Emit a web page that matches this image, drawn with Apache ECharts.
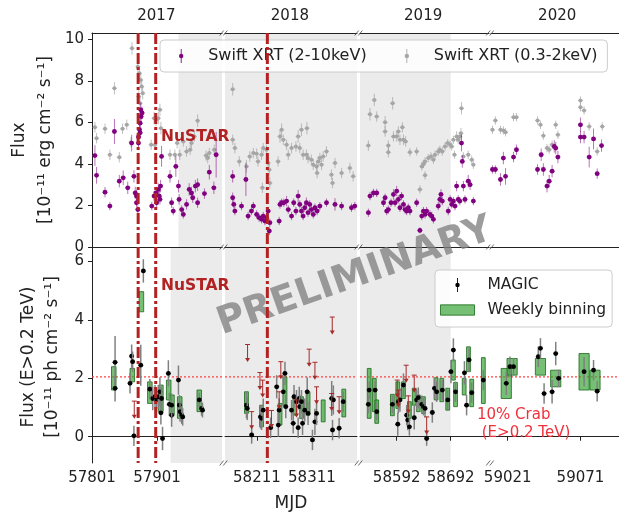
<!DOCTYPE html>
<html>
<head>
<meta charset="utf-8">
<script src="https://cdn.jsdelivr.net/npm/echarts@6/dist/echarts.min.js"></script>
<style>
html, body { margin: 0; padding: 0; background: #fff; }
#main { width: 619px; height: 513px; }
</style>
</head>
<body>
<div id="main"></div>
<script>
// broken MJD axis: one grid per segment
const segRanges = [[57801, 58001], [58153, 58393], [58524, 58763], [59009.5, 59097.5]];
const segTicks = [[57801, 57901], [58211, 58311], [58592, 58692], [59021, 59071]];
const yearLabels = ['2017', '2018', '2019', '2020'];
const yearPos = [57900, 58271, 58641, 59055];
const xrtTicks = [0, 2, 4, 6, 8, 10];
const magicTicks = [0, 2, 4, 6];
const nustarDays = [57872, 57899, 58230];
const crabLevel = 2.05;
const xrtShade = [57934, 58692];
const magicShade = [57922, 58692];

// Swift XRT 2-10 keV [MJD, flux, err]
const xrtHard = [
  [57805.5, 4.4, 0.5], [57808, 3.45, 0.4], [57821, 2.64, 0.25], [57828.5, 1.97, 0.2], [57835.5, 5.56, 0.6],
  [57843, 3.17, 0.3], [57849, 3.33, 0.35], [57856, 2.85, 0.3], [57862, 5.0, 0.4], [57865.5, 3.4, 0.3],
  [57867.5, 2.6, 0.3], [57869.5, 2.45, 0.3], [57869.5, 2.13, 0.2], [57871.5, 1.8, 0.2], [57872.5, 5.3, 0.3],
  [57872.5, 5.0, 0.3], [57874, 5.65, 0.3], [57875, 5.96, 0.3], [57875, 5.5, 0.3], [57876.5, 6.28, 0.3],
  [57876, 6.6, 0.35], [57878, 6.45, 0.3], [57893, 1.97, 0.2], [57896.5, 2.45, 0.25], [57899.5, 2.6, 0.3],
  [57900.5, 2.13, 0.25], [57903, 2.77, 0.3], [57904.5, 2.45, 0.25], [57905.5, 2.29, 0.25], [57906.5, 2.93, 0.3],
  [57908, 4.36, 0.5], [57921, 3.4, 0.3], [57923.5, 2.13, 0.25], [57926, 1.73, 0.2], [57930, 3.88, 0.5],
  [57934, 2.93, 0.3], [57935, 2.29, 0.25], [57939, 1.8, 0.2], [57941.5, 1.57, 0.2], [57946.5, 2.05, 0.25],
  [57950.5, 2.77, 0.3], [57954, 2.6, 0.3], [57956, 2.37, 0.25], [57960, 2.93, 0.3], [57963.5, 3.0, 0.3],
  [57963.5, 2.13, 0.25], [57974, 2.57, 0.25], [57981.5, 3.6, 0.35], [57988.5, 2.85, 0.3], [57992, 4.44, 1.1],
  [58167, 3.4, 0.3], [58191, 3.25, 0.8], [58167, 2.37, 0.25], [58169, 2.05, 0.2], [58171, 1.73, 0.2],
  [58183, 1.97, 0.2], [58195, 1.49, 0.2], [58201, 1.73, 0.2], [58204.5, 1.97, 0.2], [58210.5, 1.57, 0.2],
  [58215, 1.41, 0.2], [58219.5, 1.33, 0.2], [58222.5, 1.49, 0.2], [58225.5, 1.25, 0.2], [58228.5, 1.41, 0.2],
  [58231.5, 1.73, 0.2], [58233.5, 0.77, 0.2], [58234.5, 1.17, 0.2], [58251.5, 1.25, 0.2], [58253, 2.05, 0.2],
  [58256, 2.13, 0.2], [58260, 2.13, 0.2], [58265, 2.21, 0.25], [58268, 1.8, 0.2], [58274, 1.49, 0.2],
  [58278, 2.13, 0.2], [58282, 1.73, 0.2], [58286, 2.45, 0.3], [58289, 2.05, 0.2], [58292, 1.73, 0.2],
  [58295, 1.49, 0.2], [58298, 1.89, 0.2], [58301, 2.13, 0.25], [58304, 1.65, 0.2], [58307, 2.05, 0.2],
  [58310, 1.8, 0.2], [58313.5, 1.57, 0.2], [58316.5, 1.89, 0.2], [58320.5, 1.73, 0.2], [58325.5, 1.97, 0.2],
  [58337.5, 2.13, 0.2], [58353, 2.05, 0.3], [58365, 1.97, 0.2], [58383, 1.89, 0.2], [58389, 1.97, 0.2],
  [58539.5, 1.65, 0.2], [58542.5, 2.45, 0.2], [58549, 2.6, 0.2], [58555, 2.6, 0.2], [58567.5, 2.13, 0.2],
  [58570.5, 2.37, 0.2], [58573.5, 1.73, 0.2], [58576.5, 1.8, 0.2], [58581.5, 2.13, 0.2], [58586, 2.53, 0.25],
  [58589, 2.13, 0.2], [58592, 2.69, 0.25], [58595, 2.29, 0.2], [58598, 1.89, 0.2], [58601, 2.45, 0.2],
  [58604.5, 2.05, 0.2], [58607.5, 1.8, 0.2], [58610.5, 1.73, 0.2], [58613.5, 1.89, 0.2], [58616.5, 1.73, 0.2],
  [58629, 2.13, 0.2], [58635, 0.8, 0.15], [58638.5, 1.49, 0.2], [58641.5, 1.73, 0.2], [58644.5, 1.57, 0.2],
  [58647.5, 1.73, 0.2], [58653.5, 1.57, 0.2], [58657, 1.49, 0.2], [58660, 1.33, 0.2], [58669, 1.97, 0.2],
  [58672, 2.29, 0.25], [58674, 2.53, 0.25], [58676.5, 2.21, 0.2], [58687.5, 1.73, 0.2], [58691, 2.29, 0.2],
  [58694, 2.05, 0.2], [58697, 2.21, 0.2], [58700, 1.97, 0.2], [58703, 2.93, 0.25], [58706, 2.29, 0.2],
  [58709, 2.21, 0.2], [58712, 5.0, 0.4], [58713.5, 4.12, 0.3], [58715.5, 2.93, 0.25], [58718.5, 2.29, 0.2],
  [58724.5, 3.17, 0.3], [58728, 3.0, 0.25], [58734, 2.21, 0.2],
  [59010.5, 3.73, 0.2], [59012.5, 3.73, 0.2], [59016, 3.25, 0.3], [59018, 4.28, 0.3], [59019.5, 3.4, 0.4],
  [59025, 4.33, 0.25], [59027, 4.68, 0.25], [59041.5, 3.73, 0.25], [59044, 4.44, 0.3], [59045.5, 3.73, 0.3],
  [59048, 2.93, 0.3], [59049.5, 3.17, 0.3], [59051.5, 3.65, 0.3], [59053, 4.84, 0.3], [59054, 4.76, 0.3],
  [59055.5, 4.33, 0.3], [59071, 5.88, 0.35], [59071, 5.29, 0.3], [59073.5, 5.29, 0.3], [59077, 4.33, 0.5],
  [59080, 5.2, 0.5], [59082.5, 3.53, 0.25], [59085.5, 4.88, 0.3]
];

// Swift XRT 0.3-2 keV [MJD, flux, err]
const xrtSoft = [
  [57805.5, 5.76, 0.25], [57808, 5.24, 0.25], [57821, 5.69, 0.25], [57828.5, 4.44, 0.25], [57835.5, 7.64, 0.3],
  [57843, 4.32, 0.25], [57848, 5.69, 0.25], [57854.5, 5.88, 0.25], [57861, 5.04, 0.25], [57862.5, 9.56, 0.3],
  [57871.5, 8.68, 0.3], [57874, 8.36, 0.3], [57876, 8.04, 0.3], [57877.5, 7.72, 0.3], [57873, 7.24, 0.3],
  [57875, 6.92, 0.3], [57879, 7.4, 0.3], [57892, 4.92, 0.25], [57896.5, 6.2, 0.3], [57899.5, 6.12, 0.3],
  [57903, 6.2, 0.3], [57905.5, 6.6, 0.3], [57898, 4.92, 0.25], [57907, 5.72, 0.3], [57921, 4.44, 0.25],
  [57928.5, 4.44, 0.25], [57932, 5.0, 0.25], [57936, 4.44, 0.25], [57941.5, 5.08, 0.25], [57946.5, 4.6, 0.25],
  [57952, 4.68, 0.25], [57954, 5.0, 0.25], [57963.5, 6.08, 0.3], [57958.5, 5.32, 0.25], [57976.5, 4.4, 0.25],
  [57979, 4.28, 0.25], [57981.5, 4.52, 0.25], [57989, 4.68, 0.25],
  [58167, 7.59, 0.3], [58167, 5.16, 0.25], [58171, 4.76, 0.25], [58179, 4.12, 0.25], [58192, 3.88, 0.3],
  [58198, 4.36, 0.25], [58204.5, 4.52, 0.25], [58210.5, 4.49, 0.25], [58213, 4.12, 0.25], [58219.5, 4.44, 0.25],
  [58222.5, 4.76, 0.25], [58228.5, 4.68, 0.25], [58231.5, 4.04, 0.3], [58233.5, 3.72, 0.3], [58234.5, 3.08, 0.3],
  [58221, 2.85, 0.25], [58249.5, 4.12, 0.25], [58253, 5.32, 0.3], [58256, 5.64, 0.3], [58259, 5.16, 0.25],
  [58265, 4.92, 0.25], [58268, 4.44, 0.25], [58274, 4.76, 0.25], [58282, 4.84, 0.25], [58286, 5.32, 0.3],
  [58292, 5.64, 0.3], [58302, 5.72, 0.3], [58289, 4.76, 0.25], [58295, 4.44, 0.25], [58301, 4.44, 0.25],
  [58304, 4.28, 0.25], [58310, 4.2, 0.25], [58313.5, 3.96, 0.25], [58319.5, 3.88, 0.25], [58322.5, 4.12, 0.25],
  [58325.5, 4.28, 0.25], [58328.5, 3.96, 0.25], [58320.5, 3.56, 0.25], [58331.5, 4.36, 0.25], [58337.5, 4.6, 0.25],
  [58346.5, 3.48, 0.25], [58348.5, 3.08, 0.25], [58353, 4.04, 0.25], [58365, 3.56, 0.25], [58380, 3.8, 0.25],
  [58386, 3.4, 0.25],
  [58539.5, 4.88, 0.25], [58542.5, 6.39, 0.3], [58550.5, 7.08, 0.3], [58555, 6.28, 0.25], [58570.5, 6.0, 0.3],
  [58570.5, 5.56, 0.25], [58576.5, 4.88, 0.25], [58576.5, 4.56, 0.25], [58584.5, 6.92, 0.3], [58586, 5.32, 0.25],
  [58592, 5.32, 0.25], [58595, 5.56, 0.25], [58598, 5.16, 0.25], [58602.5, 5.76, 0.25], [58604.5, 5.16, 0.25],
  [58608.5, 5.08, 0.25], [58616.5, 4.56, 0.2], [58629, 4.6, 0.2], [58635, 2.77, 0.2], [58638.5, 3.88, 0.2],
  [58641.5, 4.0, 0.2], [58644.5, 4.12, 0.2], [58644.5, 3.45, 0.2], [58650.5, 4.28, 0.2], [58655.5, 4.36, 0.2],
  [58660, 4.2, 0.2], [58663, 4.44, 0.2], [58669, 4.6, 0.2], [58672, 4.68, 0.2], [58676.5, 4.6, 0.2],
  [58681.5, 4.84, 0.2], [58686.5, 5.0, 0.2], [58691, 4.92, 0.2], [58694, 4.84, 0.2], [58697, 5.16, 0.2],
  [58699, 4.44, 0.2], [58703, 5.32, 0.25], [58706, 5.16, 0.2], [58709, 5.32, 0.2], [58712, 6.68, 0.3],
  [58711, 5.48, 0.25], [58715.5, 4.36, 0.2], [58724.5, 4.44, 0.2], [58731, 4.2, 0.2], [58734, 3.96, 0.2],
  [59010.5, 5.64, 0.2], [59012.5, 6.09, 0.2], [59016, 5.64, 0.2], [59018, 5.61, 0.2], [59019.5, 5.52, 0.2],
  [59025, 6.25, 0.2], [59027, 6.25, 0.2], [59041.5, 6.09, 0.2], [59043.5, 5.88, 0.2], [59045.5, 5.36, 0.2],
  [59048, 4.76, 0.2], [59049.5, 4.68, 0.2], [59051.5, 4.92, 0.2], [59054, 5.88, 0.2], [59055.5, 5.4, 0.2],
  [59071, 7.05, 0.2], [59071, 6.73, 0.2], [59073.5, 6.57, 0.2], [59077, 5.8, 0.2], [59082.5, 4.6, 0.2],
  [59086, 5.8, 0.2]
];

// MAGIC nightly fluxes E>0.2 TeV [MJD, flux, err]
const magic = [
  [57836.5, 2.55, 0.9], [57836.5, 1.66, 0.45], [57859.5, 1.83, 0.35], [57862, 2.76, 0.4], [57863.5, 2.57, 0.35],
  [57865.5, 0.03, 0.35], [57876, 2.45, 0.7], [57880, 5.68, 0.4], [57890, 1.63, 0.35], [57894.5, 1.31, 0.4],
  [57898, 1.37, 0.4], [57900.5, 1.26, 0.4], [57903, 1.37, 0.4], [57905.5, 1.54, 0.5], [57907, 0.82, 0.4],
  [57908, 1.31, 0.4], [57909.5, -0.06, 0.4], [57918.5, 2.17, 0.45], [57920, 1.11, 0.4], [57923.5, 0.74, 0.4],
  [57923.5, 1.08, 0.4], [57934, 1.94, 0.5], [57935.5, 1.08, 0.35], [57936.5, 0.86, 0.35], [57939, 0.74, 0.3],
  [57940.5, 0.68, 0.3], [57966, 1.26, 0.25], [57969.5, 0.97, 0.25], [57971, 0.91, 0.25],
  [58192, 1.08, 0.45], [58193.5, 0.97, 0.4], [58201.5, 0.06, 0.3], [58217.5, 0.68, 0.4], [58219.5, 0.63, 0.4],
  [58222.5, 0.91, 0.4], [58236, 0.31, 0.35], [58247, 1.71, 0.4], [58250, 0.4, 0.4], [58251.5, 0.91, 0.4],
  [58259, 1.54, 0.5], [58262, 2.17, 0.4], [58263.5, 1.03, 0.4], [58274, 0.91, 0.35], [58277, 0.46, 0.35],
  [58278.5, 1.37, 0.4], [58283, 1.2, 0.4], [58286, 0.31, 0.35], [58288, 1.31, 0.4], [58289, 1.03, 0.4],
  [58292, 1.2, 0.4], [58294, 0.46, 0.4], [58298, 0.91, 0.4], [58302.5, 1.54, 0.5], [58304, 0.8, 0.4],
  [58312, -0.11, 0.35], [58316.5, 0.51, 0.45], [58319.5, 0.8, 0.4], [58347, 1.31, 0.6], [58348.5, 0.23, 0.35],
  [58350, 1.26, 0.5], [58360.5, 0.29, 0.35], [58368, 1.2, 0.35],
  [58539.5, 1.11, 0.3], [58541, 1.6, 0.3], [58552, 1.6, 0.3], [58555, 0.86, 0.3], [58584, 1.11, 0.3],
  [58594, 0.43, 0.4], [58595, 1.2, 0.4], [58598, 1.26, 0.4], [58604.5, 1.77, 0.4], [58610.5, 0.74, 0.35],
  [58612.5, 0.57, 0.35], [58615.5, 0.34, 0.3], [58624.5, 0.65, 0.4], [58629, 1.26, 0.35], [58632, 1.34, 0.35],
  [58638.5, 1.11, 0.3], [58641.5, 1.03, 0.3], [58644.5, 0.97, 0.3], [58647.5, -0.06, 0.25], [58658, 0.83, 0.35],
  [58662, 1.66, 0.35], [58666, 1.54, 0.35], [58676.5, 1.6, 0.35], [58686.5, 1.26, 0.35], [58692.5, 2.23, 0.4],
  [58697, 2.97, 0.4], [58701, 1.54, 0.35], [58717.5, 2.19, 0.4], [58721.5, 1.08, 0.35], [58726, 2.63, 0.4],
  [58731, 1.51, 0.35], [58752.5, 1.94, 0.35],
  [59020, 1.83, 0.4], [59022.5, 2.4, 0.35], [59025, 2.4, 0.3], [59042, 2.74, 0.35], [59043.5, 3.03, 0.35],
  [59046, 1.48, 0.35], [59051.5, 1.54, 0.4], [59054, 2.85, 0.4], [59056, 2.0, 0.3], [59073.5, 2.23, 0.5],
  [59080, 2.28, 0.35], [59082.5, 1.56, 0.35]
];

// MAGIC weekly bins [MJD centre, low, high]
const weekly = [
  [57834.5, 1.6, 2.4], [57863, 1.88, 2.34], [57877, 4.28, 4.97], [57890, 1.14, 1.88], [57907, 0.86, 1.77],
  [57919, 1.26, 1.94], [57924, 0.74, 1.43], [57936, 0.63, 1.37], [57966, 0.86, 1.6],
  [58192, 0.8, 1.54], [58219.5, 0.34, 1.08], [58253, 0.4, 1.14], [58262, 1.08, 2.05], [58280, 0.74, 1.31],
  [58292, 0.63, 1.37], [58304, 0.74, 1.54], [58331.5, 0.51, 1.26], [58369, 0.68, 1.63],
  [58541, 0.63, 2.34], [58550.5, 0.86, 2.0], [58555, 0.46, 1.26], [58584, 0.72, 1.45], [58594, 0.97, 1.88],
  [58604.5, 1.31, 1.88], [58615.5, 0.63, 1.2], [58624.5, 1.08, 1.66], [58632, 0.86, 1.43], [58641.5, 0.8, 1.37],
  [58665, 1.26, 2.02], [58675.5, 1.2, 2.0], [58686.5, 0.91, 1.66], [58697, 1.94, 2.63], [58701, 1.03, 1.86],
  [58717, 1.43, 2.0], [58725, 2.23, 3.08], [58731, 1.03, 1.97], [58752.5, 1.14, 2.71],
  [59020, 1.31, 2.34], [59024, 2.11, 2.68], [59043.5, 2.11, 2.68], [59054, 1.71, 2.28], [59073.5, 1.6, 2.85],
  [59081, 1.6, 2.28]
];

// MAGIC upper limits [MJD, flux]
const magicUL = [
  [57866, 1.22],
  [58194, 3.16], [58348, 4.1], [58306, 3.0], [58316.5, 2.55], [58254.5, 2.57], [58216.5, 2.2], [58221.5, 1.94],
  [58201.5, 0.86], [58237.5, 0.9], [58319.5, 1.71], [58347, 1.48], [58360.5, 1.37], [58251.5, 1.54], [58283, 1.26],
  [58593, 1.94], [58609.5, 2.45], [58624.5, 2.11], [58613.5, 1.4], [58647.5, 0.68], [58595, 1.6]
];

const F = 'DejaVu Sans';
const INK = '#222';
const segLeft = [92, 225, 360, 491];
const segWidth = [130, 132, 129, 128];
const panelTop = [33, 247];
const panelHeight = [214, 216];
const panelY = [[0, 10.3], [-0.9, 6.5]];
const hardName = 'Swift XRT (2-10keV)';
const softName = 'Swift XRT (0.3-2keV)';

function inSeg(arr, s) {
  return arr.filter(function (d) { return d[0] >= segRanges[s][0] && d[0] <= segRanges[s][1]; });
}

function errorBars(dot, bar, r, w) {
  return function (params, api) {
    const x = api.value(0), y = api.value(1), e = api.value(2);
    const c = api.coord([x, y]);
    const hi = api.coord([x, y + e]);
    const lo = api.coord([x, y - e]);
    return {
      type: 'group',
      children: [
        { type: 'line', shape: { x1: c[0], y1: hi[1], x2: c[0], y2: lo[1] }, style: { stroke: bar, lineWidth: w } },
        { type: 'line', shape: { x1: c[0] - 2.5, y1: c[1], x2: c[0] + 2.5, y2: c[1] }, style: { stroke: bar, lineWidth: w } },
        { type: 'circle', shape: { cx: c[0], cy: c[1], r: r }, style: { fill: dot } }
      ]
    };
  };
}

function shadeRender(params, api) {
  const cs = params.coordSys;
  const x1 = Math.max(api.coord([api.value(0), 0])[0], cs.x);
  const x2 = Math.min(api.coord([api.value(1), 0])[0], cs.x + cs.width);
  if (x2 <= x1) return null;
  return { type: 'rect', shape: { x: x1, y: cs.y, width: x2 - x1, height: cs.height }, style: { fill: '#ebebeb' } };
}

function weeklyRender(params, api) {
  const a = api.coord([api.value(0) - 3.5, api.value(2)]);
  const b = api.coord([api.value(0) + 3.5, api.value(1)]);
  return {
    type: 'rect',
    shape: { x: a[0], y: a[1], width: b[0] - a[0], height: b[1] - a[1] },
    style: { fill: 'rgba(60,165,60,0.7)', stroke: 'rgba(25,105,25,0.8)', lineWidth: 1 }
  };
}

function ulRender(params, api) {
  const t = api.coord([api.value(0), api.value(1)]);
  const b = api.coord([api.value(0), api.value(1) - 0.6]);
  const col = '#a52a2a';
  return {
    type: 'group',
    children: [
      { type: 'line', shape: { x1: t[0] - 2.5, y1: t[1], x2: t[0] + 2.5, y2: t[1] }, style: { stroke: col, lineWidth: 1 } },
      { type: 'line', shape: { x1: t[0], y1: t[1], x2: t[0], y2: b[1] - 3 }, style: { stroke: col, lineWidth: 1 } },
      { type: 'polygon', shape: { points: [[t[0] - 2.5, b[1] - 4], [t[0] + 2.5, b[1] - 4], [t[0], b[1]]] }, style: { fill: col } }
    ]
  };
}

function nustarRender(params, api) {
  const cs = params.coordSys;
  const x = api.coord([api.value(0), 0])[0];
  return {
    type: 'line',
    shape: { x1: x, y1: cs.y, x2: x, y2: cs.y + cs.height },
    style: { stroke: '#b22222', lineWidth: 3, lineDash: [11, 3, 3, 3] }
  };
}

const grids = [], xAxes = [], yAxes = [], series = [];
for (let p = 0; p < 2; p++) {
  for (let s = 0; s < 4; s++) {
    const g = p * 4 + s;
    grids.push({ left: segLeft[s], width: segWidth[s], top: panelTop[p], height: panelHeight[p], outerBoundsMode: 'none' });
    xAxes.push({
      type: 'value', gridIndex: g, position: 'bottom', min: segRanges[s][0], max: segRanges[s][1],
      axisLine: { show: true, lineStyle: { color: INK, width: 1 } },
      axisTick: { show: p === 1, customValues: segTicks[s], length: 4, lineStyle: { color: INK } },
      axisLabel: {
        show: p === 1, customValues: segTicks[s], margin: 8, fontSize: 15, fontFamily: F, color: INK,
        formatter: function (v) { return String(v); }
      },
      splitLine: { show: false },
      name: (p === 1 && s === 1) ? 'MJD' : '', nameLocation: 'middle', nameGap: 32,
      nameTextStyle: { fontSize: 17, fontFamily: F, color: INK }
    });
    xAxes.push({
      type: 'value', gridIndex: g, position: 'top', min: segRanges[s][0], max: segRanges[s][1],
      axisLine: { show: true, lineStyle: { color: INK, width: 1 } },
      axisTick: { show: false },
      axisLabel: {
        show: p === 0, customValues: [yearPos[s]], margin: 9, fontSize: 15, fontFamily: F, color: INK,
        formatter: function () { return yearLabels[s]; }
      },
      splitLine: { show: false }
    });
    const ticks = p === 0 ? xrtTicks : magicTicks;
    yAxes.push({
      type: 'value', gridIndex: g, min: panelY[p][0], max: panelY[p][1],
      axisLine: { show: s === 0, lineStyle: { color: INK, width: 1 } },
      axisTick: { show: s === 0, customValues: ticks, length: 4, lineStyle: { color: INK } },
      axisLabel: { show: s === 0, customValues: ticks, margin: 8, fontSize: 15, fontFamily: F, color: INK },
      splitLine: { show: false }
    });

    const ax = { xAxisIndex: g * 2, yAxisIndex: g };
    series.push(Object.assign({ type: 'custom', z: 0, renderItem: shadeRender, data: [p === 0 ? xrtShade : magicShade] }, ax));
    if (p === 0) {
      series.push(Object.assign({
        type: 'custom', name: softName, z: 3, itemStyle: { color: '#a6a6a6' },
        renderItem: errorBars('#a6a6a6', 'rgba(150,150,150,0.6)', 2, 1), data: inSeg(xrtSoft, s)
      }, ax));
      series.push(Object.assign({
        type: 'custom', name: hardName, z: 4, itemStyle: { color: '#800080' },
        renderItem: errorBars('#800080', 'rgba(128,0,128,0.55)', 2.4, 1), data: inSeg(xrtHard, s)
      }, ax));
    } else {
      series.push(Object.assign({
        type: 'line', z: 2, symbol: 'none', silent: true,
        lineStyle: { color: '#ff3b3b', width: 1.2, type: [2, 2] },
        data: [[segRanges[s][0], crabLevel], [segRanges[s][1], crabLevel]]
      }, ax));
      series.push(Object.assign({
        type: 'custom', name: 'Weekly binning', z: 3, itemStyle: { color: 'rgba(60,165,60,0.7)' },
        renderItem: weeklyRender, data: inSeg(weekly, s)
      }, ax));
      series.push(Object.assign({
        type: 'custom', name: 'MAGIC', z: 4, itemStyle: { color: '#000' },
        renderItem: errorBars('#000', '#808080', 2.4, 1.5), data: inSeg(magic, s)
      }, ax));
      series.push(Object.assign({ type: 'custom', z: 5, renderItem: ulRender, data: inSeg(magicUL, s) }, ax));
    }
    series.push(Object.assign({
      type: 'custom', z: 6, renderItem: nustarRender,
      data: nustarDays.filter(function (d) { return d >= segRanges[s][0] && d <= segRanges[s][1]; })
        .map(function (d) { return [d, 0]; })
    }, ax));
  }
}

// error-bar legend marker: bar above, bar below, dot (no overlaps)
const errIcon = 'path://M5,0h1v5.6h-1zM5,10.4h1v5.6h-1zM3,8a2.5,2.5 0 1,1 5,0a2.5,2.5 0 1,1 -5,0z';

// decorations: break marks
const breakX = [223.5, 358.5, 490];
const breakY = [33, 247, 463];
const marks = [];
breakX.forEach(function (bx) {
  breakY.forEach(function (by) {
    [-1.8, 1.8].forEach(function (d) {
      marks.push({
        type: 'line', z: 10,
        shape: { x1: bx + d - 2, y1: by + 2.5, x2: bx + d + 2, y2: by - 2.5 },
        style: { stroke: '#444', lineWidth: 0.8 }
      });
    });
  });
});

const chart = echarts.init(document.getElementById('main'), null, { renderer: 'canvas' });
chart.setOption({
  animation: false,
  backgroundColor: '#fff',
  grid: grids,
  xAxis: xAxes,
  yAxis: yAxes,
  legend: [
    {
      left: 160, top: 40, orient: 'horizontal', itemWidth: 20, itemHeight: 14, itemGap: 38,
      padding: [8, 10, 8, 19],
      backgroundColor: 'rgba(255,255,255,0.85)', borderColor: '#cccccc', borderWidth: 1, borderRadius: 4,
      selectedMode: false,
      textStyle: { fontSize: 16, fontFamily: F, color: INK, padding: [0, 0, 0, 12] },
      data: [
        { name: hardName, icon: errIcon, itemStyle: { color: '#800080' } },
        { name: softName, icon: errIcon, itemStyle: { color: '#a6a6a6' } }
      ]
    },
    {
      left: 435, top: 270, orient: 'vertical', itemWidth: 34, itemHeight: 14, itemGap: 9,
      padding: [7, 6, 9, 5],
      backgroundColor: 'rgba(255,255,255,0.85)', borderColor: '#cccccc', borderWidth: 1, borderRadius: 4,
      selectedMode: false,
      textStyle: { fontSize: 15.5, fontFamily: F, color: INK, padding: [0, 0, 0, 8] },
      data: [
        { name: 'MAGIC', icon: errIcon, itemStyle: { color: '#000' } },
        { name: 'Weekly binning', icon: 'path://M0,0h33v10h-33z', itemStyle: { color: 'rgba(60,165,60,0.7)', borderColor: 'rgba(25,105,25,0.8)', borderWidth: 1 } }
      ]
    }
  ],
  graphic: [
    {
      type: 'text', x: 355, y: 277, rotation: 0.34, z: 1, silent: true,
      style: { text: 'PRELIMINARY', font: 'bold 38px "DejaVu Sans"', fill: 'rgba(128,128,128,0.78)', textAlign: 'center', textVerticalAlign: 'middle' }
    },
    { type: 'text', x: 20, y: 140, rotation: Math.PI / 2, style: { text: 'Flux', font: '17px "DejaVu Sans"', fill: INK, textAlign: 'center', textVerticalAlign: 'middle' } },
    { type: 'text', x: 46, y: 140, rotation: Math.PI / 2, style: { text: '[10⁻¹¹ erg cm⁻² s⁻¹]', font: '17px "DejaVu Sans"', fill: INK, textAlign: 'center', textVerticalAlign: 'middle' } },
    { type: 'text', x: 29, y: 357, rotation: Math.PI / 2, style: { text: 'Flux (E>0.2 TeV)', font: '17px "DejaVu Sans"', fill: INK, textAlign: 'center', textVerticalAlign: 'middle' } },
    { type: 'text', x: 53, y: 357, rotation: Math.PI / 2, style: { text: '[10⁻¹¹ ph cm⁻² s⁻¹]', font: '17px "DejaVu Sans"', fill: INK, textAlign: 'center', textVerticalAlign: 'middle' } },
    { type: 'text', x: 161, y: 137, z: 20, style: { text: 'NuSTAR', font: 'bold 15.5px "DejaVu Sans"', fill: '#b22222', textVerticalAlign: 'middle' } },
    { type: 'text', x: 161, y: 286, z: 20, style: { text: 'NuSTAR', font: 'bold 15.5px "DejaVu Sans"', fill: '#b22222', textVerticalAlign: 'middle' } },
    { type: 'text', x: 477, y: 406, z: 20, style: { text: '10% Crab\n (E>0.2 TeV)', font: '15px "DejaVu Sans"', fill: '#f0303a', lineHeight: 18 } }
  ].concat(marks),
  series: series
});
</script>
</body>
</html>
